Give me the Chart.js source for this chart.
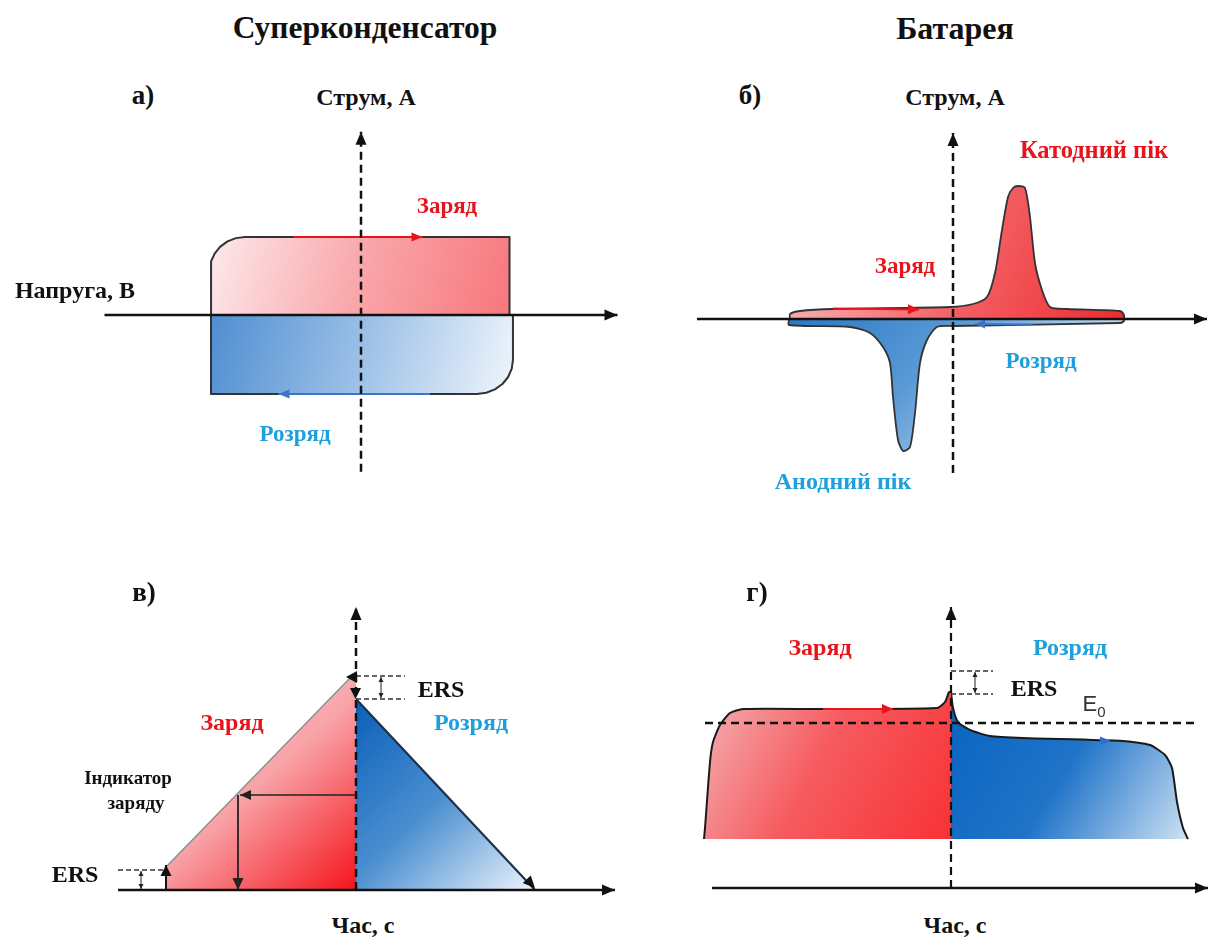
<!DOCTYPE html>
<html lang="uk">
<head>
<meta charset="utf-8">
<title>Суперконденсатор / Батарея</title>
<script src="https://cdn.jsdelivr.net/npm/chart.js@4.4.1/dist/chart.umd.min.js"></script>
<style>
  body { margin: 0; background: #fff; }
  #page { position: relative; width: 1225px; height: 939px; overflow: hidden;
          font-family: "Liberation Serif", "Times New Roman", serif; color: #111; }
  canvas { position: absolute; }
  .t { position: absolute; transform: translate(-50%, -50%); white-space: nowrap;
       font-weight: bold; line-height: 1; }
  .red { color: #e8141c; }
  .blue { color: #1ea0dc; }
  .e0 { font-family: "Liberation Sans", Arial, sans-serif; font-weight: normal; color: #333; }
</style>
</head>
<body>
<div id="page">
  <canvas id="cvA" width="525" height="355" style="left:100px;top:125px"></canvas>
  <canvas id="cvB" width="530" height="355" style="left:690px;top:125px"></canvas>
  <canvas id="cvV" width="540" height="310" style="left:100px;top:595px"></canvas>
  <canvas id="cvG" width="535" height="310" style="left:690px;top:595px"></canvas>

  <div class="t" style="left:365px;top:28px;font-size:31.5px">Суперконденсатор</div>
  <div class="t" style="left:955px;top:28px;font-size:32px">Батарея</div>

  <div class="t" style="left:143px;top:95px;font-size:27px">а)</div>
  <div class="t" style="left:750px;top:95px;font-size:27px">б)</div>
  <div class="t" style="left:144px;top:592px;font-size:27px">в)</div>
  <div class="t" style="left:757px;top:592px;font-size:27px">г)</div>

  <div class="t" style="left:366px;top:97px;font-size:24px">Струм, А</div>
  <div class="t" style="left:955px;top:97px;font-size:24px">Струм, А</div>
  <div class="t" style="left:75px;top:290px;font-size:24px">Напруга, В</div>

  <div class="t red" style="left:447px;top:205px;font-size:23px">Заряд</div>
  <div class="t blue" style="left:295px;top:433px;font-size:23px">Розряд</div>

  <div class="t red" style="left:1094px;top:150px;font-size:24.5px">Катодний пік</div>
  <div class="t red" style="left:905px;top:265px;font-size:23px">Заряд</div>
  <div class="t blue" style="left:1041px;top:360px;font-size:23px">Розряд</div>
  <div class="t blue" style="left:843px;top:481px;font-size:24px">Анодний пік</div>

  <div class="t" style="left:441px;top:689px;font-size:24px">ERS</div>
  <div class="t red" style="left:232px;top:722px;font-size:24px">Заряд</div>
  <div class="t blue" style="left:471px;top:722px;font-size:24px">Розряд</div>
  <div class="t" style="left:128px;top:777px;font-size:19px">Індикатор</div>
  <div class="t" style="left:136px;top:802px;font-size:19px">заряду</div>
  <div class="t" style="left:75px;top:874px;font-size:24px">ERS</div>
  <div class="t" style="left:363px;top:925px;font-size:24px">Час, с</div>

  <div class="t red" style="left:820px;top:647px;font-size:24px">Заряд</div>
  <div class="t blue" style="left:1070px;top:647px;font-size:24px">Розряд</div>
  <div class="t" style="left:1034px;top:688px;font-size:24px">ERS</div>
  <div class="t e0" style="left:1094px;top:706px;font-size:22px">E<sub style="font-size:15px">0</sub></div>
  <div class="t" style="left:955px;top:925px;font-size:24px">Час, с</div>
</div>

<script>
// а) ЦВА суперконденсатора: напруга (В) / струм (А)
const cvCapChargeV = [-1.0, -1.0, -0.999, -0.975, -0.938, -0.89, -0.834, -0.773, 0.99, 0.99];
const cvCapChargeI = [0, 0.56, 0.67, 0.77, 0.854, 0.92, 0.961, 0.975, 0.975, 0];
const cvCapDischargeV = [-1.0, -1.0, 0.773, 0.835, 0.893, 0.943, 0.981, 1.005, 1.013, 1.013];
const cvCapDischargeI = [0, -0.9875, -0.9875, -0.9725, -0.93, -0.8625, -0.775, -0.67, -0.5625, 0];

// б) ЦВА батареї
const cvBatChargeV = [-1.63, -1.63, -1.53, -1.20, -0.03, 0.20, 0.34, 0.42, 0.49, 0.55, 0.60, 0.65,
                      0.72, 0.77, 0.82, 0.89, 0.97, 1.14, 1.67, 1.71, 1.71];
const cvBatChargeI = [0, 0.05, 0.08, 0.10, 0.12, 0.15, 0.22, 0.46, 0.89, 1.22, 1.31, 1.33,
                      1.31, 1.02, 0.56, 0.29, 0.12, 0.10, 0.08, 0.04, 0];
const cvBatDischargeV = [-1.64, -1.64, -1.03, -0.83, -0.70, -0.63, -0.60, -0.55, -0.50, -0.43,
                         -0.38, -0.33, -0.26, -0.16, 0, 1.67, 1.71, 1.71];
const cvBatDischargeI = [0, -0.06, -0.08, -0.14, -0.28, -0.44, -0.78, -1.21, -1.32, -1.28,
                         -0.94, -0.44, -0.21, -0.08, -0.07, -0.04, -0.02, 0];

// в) гальваностатика суперконденсатора: час (с) / напруга
const gcCapChargeT = [-1.90, -1.90, -0.05, 0];
const gcCapChargeU = [0, 0.23, 2.13, 2.13];
const gcCapDischargeT = [0, 1.79];
const gcCapDischargeU = [1.91, 0];

// г) гальваностатика батареї
const gcBatChargeT = [-2.47, -2.46, -2.41, -2.38, -2.31, -2.21, -2.08, -1.28, -0.14, -0.06, -0.02, 0];
const gcBatChargeU = [0.49, 0.60, 1.26, 1.46, 1.63, 1.75, 1.79, 1.79, 1.80, 1.86, 1.96, 1.96];
const gcBatDischargeT = [0, 0.02, 0.07, 0.19, 0.39, 0.72, 1.72, 1.99, 2.14, 2.21, 2.26, 2.32, 2.37];
const gcBatDischargeU = [1.96, 1.80, 1.66, 1.58, 1.52, 1.50, 1.47, 1.43, 1.33, 1.20, 0.86, 0.60, 0.49];
const gcBatBase = 0.49;
const gcBatE0 = 1.65;

const RED = '#e8141c';
const BLUE = '#2f6fcc';

function pts(xs, ys) { return xs.map((x, i) => ({ x, y: ys[i] })); }

// лінійний градієнт у координатах даних
function grad(x0, y0, x1, y1, stops) {
  return (c) => {
    const chart = c.chart;
    if (!chart.chartArea) return stops[0][1];
    const sx = chart.scales.x, sy = chart.scales.y;
    const g = chart.ctx.createLinearGradient(sx.getPixelForValue(x0), sy.getPixelForValue(y0),
                                             sx.getPixelForValue(x1), sy.getPixelForValue(y1));
    stops.forEach(s => g.addColorStop(s[0], s[1]));
    return g;
  };
}

function shape(xs, ys, fill, bg, border, width, tension) {
  return { data: pts(xs, ys), fill, backgroundColor: bg, borderColor: border,
           borderWidth: width, tension: tension || 0, pointRadius: 0, borderJoinStyle: 'round' };
}

function overlay(draw) {
  return {
    id: 'overlay',
    afterDatasetsDraw(chart) {
      const ctx = chart.ctx, sx = chart.scales.x, sy = chart.scales.y;
      const X = v => sx.getPixelForValue(v), Y = v => sy.getPixelForValue(v);
      const g = {};
      g.line = (x0, y0, x1, y1, color, w, dash) => {
        ctx.save();
        ctx.strokeStyle = color; ctx.lineWidth = w; ctx.setLineDash(dash || []);
        ctx.beginPath(); ctx.moveTo(X(x0), Y(y0)); ctx.lineTo(X(x1), Y(y1)); ctx.stroke();
        ctx.restore();
      };
      // наконечник: вершина в (x,y), кут у градусах екрана (0 вправо, 90 вниз)
      g.head = (x, y, deg, color, len, half) => {
        const a = deg * Math.PI / 180, px = X(x), py = Y(y);
        const bx = px - len * Math.cos(a), by = py - len * Math.sin(a);
        ctx.save();
        ctx.fillStyle = color;
        ctx.beginPath();
        ctx.moveTo(px, py);
        ctx.lineTo(bx + half * Math.sin(a), by - half * Math.cos(a));
        ctx.lineTo(bx - half * Math.sin(a), by + half * Math.cos(a));
        ctx.closePath(); ctx.fill();
        ctx.restore();
      };
      g.arrow = (x0, y0, x1, y1, color, w, len, half, dash) => {
        g.line(x0, y0, x1, y1, color, w, dash);
        const deg = Math.atan2(Y(y1) - Y(y0), X(x1) - X(x0)) * 180 / Math.PI;
        g.head(x1, y1, deg, color, len, half);
      };
      g.dbl = (x, y0, y1) => {
        g.line(x, y0, x, y1, '#222', 1);
        g.head(x, y1, -90, '#222', 5, 2.5);
        g.head(x, y0, 90, '#222', 5, 2.5);
      };
      draw(g);
    }
  };
}

function makeChart(id, xr, yr, datasets, draw) {
  return new Chart(document.getElementById(id), {
    type: 'line',
    data: { datasets },
    options: {
      responsive: false, animation: false, devicePixelRatio: 1, events: [],
      layout: { padding: 0 },
      plugins: { legend: { display: false }, tooltip: { enabled: false } },
      scales: {
        x: { type: 'linear', display: false, min: xr[0], max: xr[1] },
        y: { type: 'linear', display: false, min: yr[0], max: yr[1] }
      }
    },
    plugins: [overlay(draw)]
  });
}

const AX = '#111';
const DASH = [8, 5];

// а)
makeChart('cvA', [-1.74, 1.76], [-2.0625, 2.375], [
  shape(cvCapChargeV, cvCapChargeI, 'origin',
        grad(-1.0, 0.98, 0.99, 0, [[0, '#fde9eb'], [0.5, '#f9a6aa'], [1, '#f7777c']]), '#333', 2),
  shape(cvCapDischargeV, cvCapDischargeI, 'origin',
        grad(-1.0, 0, 1.01, -0.99, [[0, '#4f8ed1'], [0.5, '#9cc0e7'], [1, '#eff5fc']]), '#333', 2)
], g => {
  g.arrow(-0.45, 0.975, 0.41, 0.975, RED, 2, 11, 4.5);
  g.arrow(0.46, -0.9875, -0.55, -0.9875, '#3f73c6', 2, 11, 4.5);
  g.arrow(-1.71, 0, 1.71, 0, AX, 2.5, 13, 5.5);
  g.arrow(0, -1.96, 0, 2.29, AX, 2.5, 13, 5.5, DASH);
});

// б)
makeChart('cvB', [-2.63, 2.67], [-1.61, 1.94], [
  shape(cvBatChargeV, cvBatChargeI, 'origin',
        grad(-1.6, 1.2, 1.7, 0, [[0, '#f8bcbf'], [0.55, '#f35f63'], [1, '#ee2c31']]), '#333', 1.8, 0.25),
  shape(cvBatDischargeV, cvBatDischargeI, 'origin',
        grad(-1.64, 0, 0.2, -1.6, [[0, '#2a78c4'], [0.55, '#5a9ad6'], [1, '#b9d6f2']]), '#333', 1.8, 0.25)
], g => {
  g.arrow(-1.2, 0.105, -0.34, 0.095, RED, 2, 11, 5);
  g.arrow(0.8, -0.055, 0.22, -0.05, '#3f73c6', 2, 10, 4.5);
  g.arrow(-2.56, 0, 2.54, 0, AX, 2.5, 13, 5.5);
  g.arrow(0, -1.54, 0, 1.86, AX, 2.5, 13, 5.5, DASH);
});

// в)
makeChart('cvV', [-2.56, 2.84], [-0.15, 2.95], [
  shape(gcCapChargeT, gcCapChargeU, 'origin',
        grad(-1.9, 2.13, 0, 0, [[0, '#fde3e5'], [0.5, '#f8a2a6'], [1, '#f5141c']]), '#8c8c8c', 1.4),
  shape(gcCapDischargeT, gcCapDischargeU, 'origin',
        grad(0, 1.91, 1.79, 0, [[0, '#0a5fb9'], [0.5, '#4b8fd0'], [1, '#edf4fc']]), '#1d2f4c', 2.2)
], g => {
  g.arrow(-2.38, 0, 2.59, 0, AX, 2.5, 13, 5.5);
  g.arrow(0, 0, 0, 2.83, AX, 2.5, 13, 5.5, DASH);
  g.head(1.79, 0.02, Math.atan2(189, 179) * 180 / Math.PI, AX, 12, 5.5);
  g.line(0, 2.14, 0.49, 2.14, '#333', 1.3, [5, 3]);
  g.line(0, 1.91, 0.49, 1.91, '#333', 1.3, [5, 3]);
  g.dbl(0.25, 1.92, 2.13);
  g.head(-0.1, 2.13, 180, AX, 11, 6);
  g.head(-0.005, 1.91, 90, AX, 11, 5.5);
  g.arrow(0, 0.95, -1.16, 0.95, '#222', 1.5, 11, 5);
  g.arrow(-1.18, 0.95, -1.18, 0.0, '#222', 1.8, 12, 5.5);
  g.line(-2.38, 0.20, -1.89, 0.20, '#333', 1.3, [5, 3]);
  g.dbl(-2.15, 0.01, 0.19);
  g.arrow(-1.90, 0, -1.90, 0.25, AX, 2, 11, 5.5);
});

// г)
makeChart('cvG', [-2.61, 2.74], [-0.17, 2.93], [
  shape(gcBatChargeT, gcBatChargeU, { value: gcBatBase },
        grad(-2.47, 1.8, 0, 0.49, [[0, '#f3adb0'], [0.45, '#f65b5f'], [1, '#f83236']]), '#1a1a1a', 2, 0.2),
  shape(gcBatDischargeT, gcBatDischargeU, { value: gcBatBase },
        grad(0, 1.96, 2.37, 0.49, [[0, '#0863c0'], [0.5, '#2074c8'], [1, '#cfe2f4']]), '#1a1a1a', 2, 0.2)
], g => {
  g.arrow(-1.28, 1.79, -0.58, 1.79, RED, 2, 11, 5);
  g.head(1.6, 1.47, 0, BLUE, 11, 4.5);
  g.arrow(-2.39, 0, 2.57, 0, AX, 2.5, 13, 5.5);
  g.arrow(0, 0, 0, 2.81, AX, 2.2, 13, 5.5, DASH);
  g.line(-2.46, gcBatE0, 2.46, gcBatE0, AX, 2.5, DASH);
  g.line(0, 2.17, 0.42, 2.17, '#333', 1.3, [5, 3]);
  g.line(0, 1.94, 0.42, 1.94, '#333', 1.3, [5, 3]);
  g.dbl(0.24, 1.95, 2.16);
});
</script>
</body>
</html>
